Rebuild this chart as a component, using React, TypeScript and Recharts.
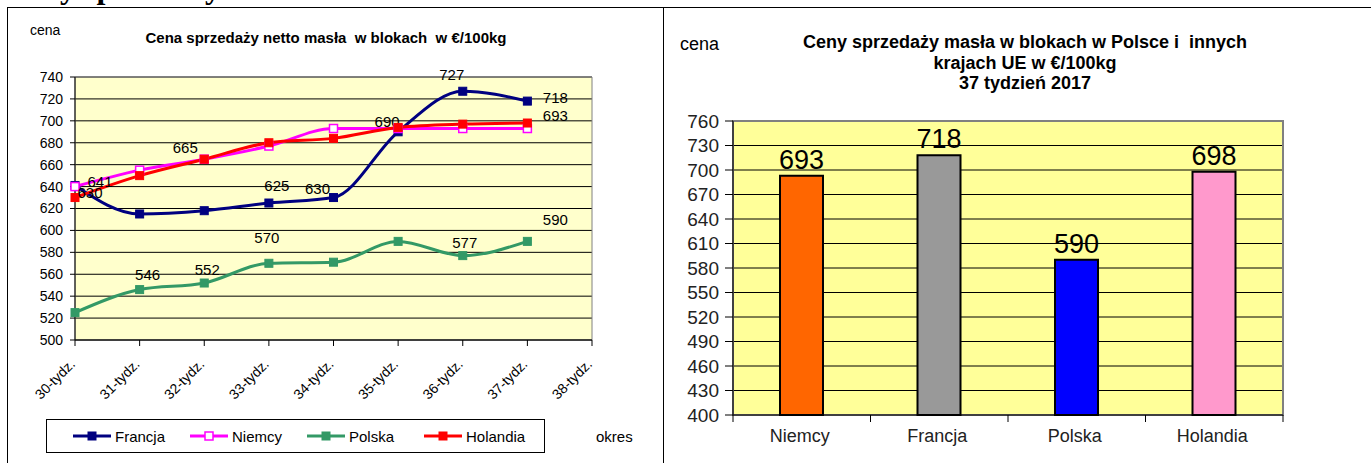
import React from 'react';
import {
  LineChart, Line, BarChart, Bar, Cell, XAxis, YAxis, CartesianGrid, ReferenceArea,
} from 'recharts';

// tygodnie 30-38, ceny w €/100kg
const weeks = ['30-tydz.', '31-tydz.', '32-tydz.', '33-tydz.', '34-tydz.', '35-tydz.', '36-tydz.', '37-tydz.', '38-tydz.'];
const francja = [641, 615, 618, 625, 630, 690, 727, 718, null];
const niemcy = [640, 655, 665, 677, 693, 693, 693, 693, null];
const polska = [525, 546, 552, 570, 571, 590, 577, 590, null];
const holandia = [630, 650, 665, 680, 684, 694, 697, 698, null];
const leftTicks = [500, 520, 540, 560, 580, 600, 620, 640, 660, 680, 700, 720, 740];

// 37 tydzień 2017
const countries = ['Niemcy', 'Francja', 'Polska', 'Holandia'];
const prices37 = [693, 718, 590, 698];
const rightTicks = [400, 430, 460, 490, 520, 550, 580, 610, 640, 670, 700, 730, 760];

const lineData = weeks.map((w, i) => ({
  week: w, francja: francja[i], niemcy: niemcy[i], polska: polska[i], holandia: holandia[i],
}));
const barData = countries.map((c, i) => ({ country: c, price: prices37[i] }));

const series = [
  { key: 'francja', name: 'Francja', color: '#000080', hollow: false },
  { key: 'niemcy', name: 'Niemcy', color: '#FF00FF', hollow: true },
  { key: 'polska', name: 'Polska', color: '#339966', hollow: false },
  { key: 'holandia', name: 'Holandia', color: '#FF0000', hollow: false },
];
const barColors = ['#FF6600', '#999999', '#0000FF', '#FF99CC'];

// which points carry a value label, and where it sits relative to the point
const labelPos: Record<string, Record<number, [number, number]>> = {
  francja: { 0: [25, -4], 3: [8, -18], 4: [-16, -9], 5: [-11, -10], 6: [-11, -17], 7: [28, -4] },
  niemcy: { 7: [28, -13] },
  polska: { 1: [8, -15], 2: [3, -14], 3: [-2, -26], 6: [2, -13], 7: [28, -22] },
  holandia: { 0: [15, -5], 2: [-19, -12] },
};

const FONT = '"Liberation Sans", Arial, sans-serif';
const BAR_W = 711, BAR_M = { top: 121, right: 88, bottom: 8, left: 23 }, BAR_YW = 50;
const BAND = (BAR_W - BAR_M.left - BAR_M.right - BAR_YW) / countries.length;

const makeDot = (s: typeof series[number]) => (p: any) => {
  const { cx, cy, index, value } = p;
  const key = `${s.key}-${index}`;
  if (value == null || cy == null) return <g key={key} />;
  const off = labelPos[s.key][index];
  return (
    <g key={key}>
      <rect x={cx - 4} y={cy - 4} width={8} height={8}
        fill={s.hollow ? '#fff' : s.color} stroke={s.color} strokeWidth={s.hollow ? 1.5 : 1} />
      {off && (
        <text x={cx + off[0]} y={cy + off[1]} textAnchor="middle" dominantBaseline="central"
          fontSize={15} fill="#000" fontFamily={FONT}>{value}</text>
      )}
    </g>
  );
};

const WeekTick = (p: any) => (
  <g transform={`translate(${p.x + 1},${p.y + 17}) rotate(-45)`}>
    <text textAnchor="end" fontSize={14} fill="#000" fontFamily={FONT}>{p.payload.value}</text>
  </g>
);

const CountryTick = (p: any) => (
  <g>
    <line x1={p.x - BAND / 2} x2={p.x - BAND / 2} y1={p.y} y2={p.y + 7} stroke="#000" />
    {p.index === countries.length - 1 && (
      <line x1={p.x + BAND / 2} x2={p.x + BAND / 2} y1={p.y} y2={p.y + 7} stroke="#000" />
    )}
    <text x={p.x - 2} y={p.y + 21} textAnchor="middle" dominantBaseline="central"
      fontSize={18} fill="#222" fontFamily={FONT}>{p.payload.value}</text>
  </g>
);

function LegendBox() {
  return (
    <div style={{
      position: 'absolute', left: 46, top: 419, width: 499, height: 34, boxSizing: 'border-box',
      border: '1px solid #000', display: 'flex', alignItems: 'center', paddingLeft: 25,
    }}>
      {series.map((s) => (
        <div key={s.key} style={{ display: 'flex', alignItems: 'center', width: 117 }}>
          <svg width={40} height={12}>
            <line x1={1} x2={39} y1={6} y2={6} stroke={s.color} strokeWidth={3} />
            <rect x={16} y={2} width={8} height={8} fill={s.hollow ? '#fff' : s.color}
              stroke={s.color} strokeWidth={s.hollow ? 1.5 : 1} />
          </svg>
          <span style={{ fontSize: 15, marginLeft: 3 }}>{s.name}</span>
        </div>
      ))}
    </div>
  );
}

export default function App() {
  return (
    <div style={{
      position: 'absolute', left: 0, top: 0, width: 1371, height: 463, overflow: 'hidden',
      background: '#fff', fontFamily: FONT, color: '#000',
    }}>
      <svg width={1371} height={463} style={{ position: 'absolute', left: 0, top: 0 }}>
        <text x={5} y={-2} fontFamily='"Liberation Serif", serif' fontWeight="bold" fontSize={32}>
          Ceny sprzedaży masła w blokach
        </text>
        <line x1={7} x2={1371} y1={7.5} y2={7.5} stroke="#000" />
        <line x1={7.5} x2={7.5} y1={7} y2={463} stroke="#000" />
        <line x1={663.5} x2={663.5} y1={7} y2={463} stroke="#000" />
      </svg>

      {/* lewy wykres */}
      <div style={{ position: 'absolute', left: 0, top: 0 }}>
        <LineChart width={660} height={463} data={lineData}
          margin={{ top: 77, right: 68, bottom: 53, left: 30 }}>
          <CartesianGrid vertical={false} stroke="#000" fill="#FFFFCC" fillOpacity={1} />
          <ReferenceArea x1="30-tydz." x2="38-tydz." y1={500} y2={740} fill="none" stroke="#808080" />
          <XAxis dataKey="week" interval={0} stroke="#000" tickSize={6} tickMargin={2} height={70}
            tick={<WeekTick />} />
          <YAxis domain={[500, 740]} ticks={leftTicks} interval={0} width={45} stroke="#000"
            tickSize={5} tickMargin={7} tick={{ fill: '#000', fontSize: 14, fontFamily: FONT }} />
          {series.map((s) => (
            <Line key={s.key} dataKey={s.key} type="monotone" stroke={s.color} strokeWidth={3}
              dot={makeDot(s)} activeDot={false} isAnimationActive={false} />
          ))}
        </LineChart>
      </div>
      <div style={{ position: 'absolute', left: 30, top: 21, fontSize: 14, lineHeight: '18px' }}>cena</div>
      <div style={{
        position: 'absolute', left: 76, width: 500, top: 29, textAlign: 'center', fontSize: 15,
        fontWeight: 'bold', lineHeight: '18px', whiteSpace: 'pre',
      }}>Cena sprzedaży netto masła  w blokach  w €/100kg</div>
      <LegendBox />
      <div style={{ position: 'absolute', left: 596, top: 428, fontSize: 15, lineHeight: '18px' }}>okres</div>

      {/* prawy wykres */}
      <div style={{ position: 'absolute', left: 660, top: 0 }}>
        <BarChart width={BAR_W} height={463} data={barData} margin={BAR_M} barSize={43}>
          <CartesianGrid vertical={false} stroke="#000" fill="#FFFF99" fillOpacity={1} />
          <ReferenceArea x1="Niemcy" x2="Holandia" y1={400} y2={760} fill="none" stroke="#808080" strokeWidth={2} />
          <XAxis dataKey="country" interval={0} stroke="#000" tickLine={false} tickSize={0} tickMargin={0}
            height={40} tick={<CountryTick />} />
          <YAxis domain={[400, 760]} ticks={rightTicks} interval={0} width={BAR_YW} stroke="#000"
            tickSize={8} tickMargin={6} tick={{ fill: '#222', fontSize: 19, fontFamily: FONT }} />
          <Bar dataKey="price" stroke="#000" strokeWidth={2} isAnimationActive={false}
            label={{ position: 'top', offset: 7, fontSize: 27, fill: '#000', fontFamily: FONT }}>
            {barData.map((d, i) => <Cell key={d.country} fill={barColors[i]} />)}
          </Bar>
        </BarChart>
      </div>
      <div style={{ position: 'absolute', left: 680, top: 33, fontSize: 18, lineHeight: '22px' }}>cena</div>
      <div style={{
        position: 'absolute', left: 725, width: 600, top: 32, textAlign: 'center', fontSize: 18,
        fontWeight: 'bold', lineHeight: '20.5px', whiteSpace: 'pre',
      }}>
        {'Ceny sprzedaży masła w blokach w Polsce i  innych\nkrajach UE w €/100kg\n37 tydzień 2017'}
      </div>
    </div>
  );
}
